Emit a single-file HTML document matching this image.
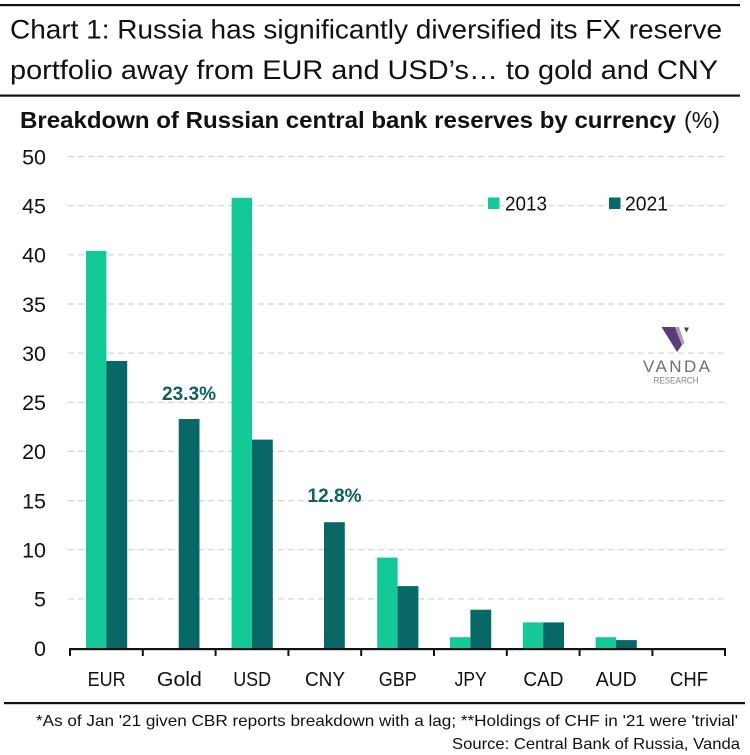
<!DOCTYPE html>
<html>
<head>
<meta charset="utf-8">
<style>
  html, body { margin: 0; padding: 0; background: #ffffff; }
  svg { display: block; }
  text { font-family: "Liberation Sans", "DejaVu Sans", sans-serif; }
</style>
</head>
<body>
<svg width="750" height="755" viewBox="0 0 750 755" xmlns="http://www.w3.org/2000/svg">
  <rect x="0" y="0" width="750" height="755" fill="#ffffff"/>

  <!-- Top rule -->
  <rect x="0" y="4" width="740" height="2.2" fill="#111"/>

  <!-- Title -->
  <text x="10" y="38.5" font-size="27" fill="#111" textLength="712" lengthAdjust="spacingAndGlyphs">Chart 1: Russia has significantly diversified its FX reserve</text>
  <text x="10" y="79" font-size="27" fill="#111" textLength="708" lengthAdjust="spacingAndGlyphs">portfolio away from EUR and USD’s… to gold and CNY</text>

  <!-- Second rule -->
  <rect x="0" y="94.5" width="740" height="2.2" fill="#111"/>

  <!-- Subtitle -->
  <text x="20" y="128" font-size="23" font-weight="bold" fill="#111" textLength="656" lengthAdjust="spacingAndGlyphs">Breakdown of Russian central bank reserves by currency</text>
  <text x="684" y="128" font-size="23" fill="#111" textLength="36" lengthAdjust="spacingAndGlyphs">(%)</text>

  <!-- Gridlines -->
  <g stroke="#d4d4d4" stroke-width="1.2" stroke-dasharray="6 4">
    <line x1="68" y1="156.5" x2="726" y2="156.5"/>
    <line x1="68" y1="205.7" x2="726" y2="205.7"/>
    <line x1="68" y1="254.8" x2="726" y2="254.8"/>
    <line x1="68" y1="304" x2="726" y2="304"/>
    <line x1="68" y1="353.1" x2="726" y2="353.1"/>
    <line x1="68" y1="402.3" x2="726" y2="402.3"/>
    <line x1="68" y1="451.4" x2="726" y2="451.4"/>
    <line x1="68" y1="500.6" x2="726" y2="500.6"/>
    <line x1="68" y1="549.7" x2="726" y2="549.7"/>
    <line x1="68" y1="598.9" x2="726" y2="598.9"/>
  </g>

  <!-- Y axis labels -->
  <g font-size="21.5" fill="#111" text-anchor="end">
    <text x="46" y="164.3">50</text>
    <text x="46" y="213.5">45</text>
    <text x="46" y="262.6">40</text>
    <text x="46" y="311.8">35</text>
    <text x="46" y="360.9">30</text>
    <text x="46" y="410.1">25</text>
    <text x="46" y="459.2">20</text>
    <text x="46" y="508.4">15</text>
    <text x="46" y="557.5">10</text>
    <text x="46" y="606.7">5</text>
    <text x="46" y="655.8">0</text>
  </g>

  <!-- Legend -->
  <rect x="488" y="197.5" width="11.5" height="11.5" fill="#13c997"/>
  <text x="505" y="210.5" font-size="20" fill="#111" textLength="42" lengthAdjust="spacingAndGlyphs">2013</text>
  <rect x="609" y="197.5" width="11.5" height="11.5" fill="#086866"/>
  <text x="625" y="210.5" font-size="20" fill="#111" textLength="43" lengthAdjust="spacingAndGlyphs">2021</text>

  <!-- Bars: y(v) = 648 - 9.83 v -->
  <g fill="#13c997">
    <!-- EUR 40.4 -->
    <rect x="86" y="250.9" width="20.4" height="397.1"/>
    <!-- USD 45.8 -->
    <rect x="231.6" y="197.8" width="20.4" height="450.2"/>
    <!-- GBP 9.2 -->
    <rect x="377.2" y="557.6" width="20.4" height="90.4"/>
    <!-- JPY 1.1 -->
    <rect x="450" y="637.2" width="20.4" height="10.8"/>
    <!-- CAD 2.6 -->
    <rect x="522.8" y="622.4" width="20.4" height="25.6"/>
    <!-- AUD 1.1 -->
    <rect x="595.6" y="637.2" width="20.4" height="10.8"/>
  </g>
  <g fill="#086866">
    <!-- EUR 29.2 -->
    <rect x="106.4" y="361" width="20.8" height="287"/>
    <!-- Gold 23.3 -->
    <rect x="178.7" y="419" width="20.8" height="229"/>
    <!-- USD 21.2 -->
    <rect x="252" y="439.6" width="20.8" height="208.4"/>
    <!-- CNY 12.8 -->
    <rect x="324" y="522.2" width="20.8" height="125.8"/>
    <!-- GBP 6.3 -->
    <rect x="397.6" y="586.1" width="20.8" height="61.9"/>
    <!-- JPY 3.9 -->
    <rect x="470.4" y="609.7" width="20.8" height="38.3"/>
    <!-- CAD 2.6 -->
    <rect x="543.2" y="622.4" width="20.8" height="25.6"/>
    <!-- AUD 0.8 -->
    <rect x="616" y="640.1" width="20.8" height="7.9"/>
  </g>

  <!-- Data labels -->
  <text x="189" y="400" font-size="19" font-weight="bold" fill="#0d615f" text-anchor="middle" textLength="54" lengthAdjust="spacingAndGlyphs">23.3%</text>
  <text x="334.5" y="502" font-size="19" font-weight="bold" fill="#0d615f" text-anchor="middle" textLength="54" lengthAdjust="spacingAndGlyphs">12.8%</text>

  <!-- X axis -->
  <rect x="69" y="648" width="657" height="2.2" fill="#111"/>
  <g stroke="#111" stroke-width="2">
    <line x1="70" y1="648" x2="70" y2="656"/>
    <line x1="142.8" y1="648" x2="142.8" y2="656"/>
    <line x1="215.6" y1="648" x2="215.6" y2="656"/>
    <line x1="288.4" y1="648" x2="288.4" y2="656"/>
    <line x1="361.2" y1="648" x2="361.2" y2="656"/>
    <line x1="434" y1="648" x2="434" y2="656"/>
    <line x1="506.8" y1="648" x2="506.8" y2="656"/>
    <line x1="579.6" y1="648" x2="579.6" y2="656"/>
    <line x1="652.4" y1="648" x2="652.4" y2="656"/>
    <line x1="725" y1="648" x2="725" y2="656"/>
  </g>

  <!-- X labels -->
  <g font-size="20.5" fill="#111" text-anchor="middle">
    <text x="106.6" y="686" textLength="38" lengthAdjust="spacingAndGlyphs">EUR</text>
    <text x="179.4" y="686" textLength="45" lengthAdjust="spacingAndGlyphs">Gold</text>
    <text x="252.2" y="686" textLength="38" lengthAdjust="spacingAndGlyphs">USD</text>
    <text x="325" y="686" textLength="40" lengthAdjust="spacingAndGlyphs">CNY</text>
    <text x="397.8" y="686" textLength="38" lengthAdjust="spacingAndGlyphs">GBP</text>
    <text x="470.6" y="686" textLength="32" lengthAdjust="spacingAndGlyphs">JPY</text>
    <text x="543.4" y="686" textLength="40" lengthAdjust="spacingAndGlyphs">CAD</text>
    <text x="616.2" y="686" textLength="41" lengthAdjust="spacingAndGlyphs">AUD</text>
    <text x="689" y="686" textLength="38" lengthAdjust="spacingAndGlyphs">CHF</text>
  </g>

  <!-- Vanda logo -->
  <polygon points="661.5,327 675,327 682,345 677,352" fill="#5a3b7c"/>
  <polygon points="675,327 679,327 684.5,343 682,345" fill="#a3a1b0"/>
  <polygon points="684,327.5 689,327.5 686.5,332.5" fill="#4b3a5e"/>
  <text x="676.5" y="372" font-size="17" fill="#707070" text-anchor="middle" textLength="67" lengthAdjust="spacing">VANDA</text>
  <text x="676" y="383.5" font-size="9" fill="#858585" text-anchor="middle" textLength="45" lengthAdjust="spacingAndGlyphs">RESEARCH</text>

  <!-- Bottom rule -->
  <rect x="4" y="702" width="741" height="2.2" fill="#111"/>

  <!-- Footnotes -->
  <text x="36" y="726" font-size="16" fill="#111" textLength="702" lengthAdjust="spacingAndGlyphs">*As of Jan '21 given CBR reports breakdown with a lag; **Holdings of CHF in '21 were 'trivial'</text>
  <text x="452" y="749" font-size="16" fill="#111" textLength="288" lengthAdjust="spacingAndGlyphs">Source: Central Bank of Russia, Vanda</text>
</svg>
</body>
</html>
